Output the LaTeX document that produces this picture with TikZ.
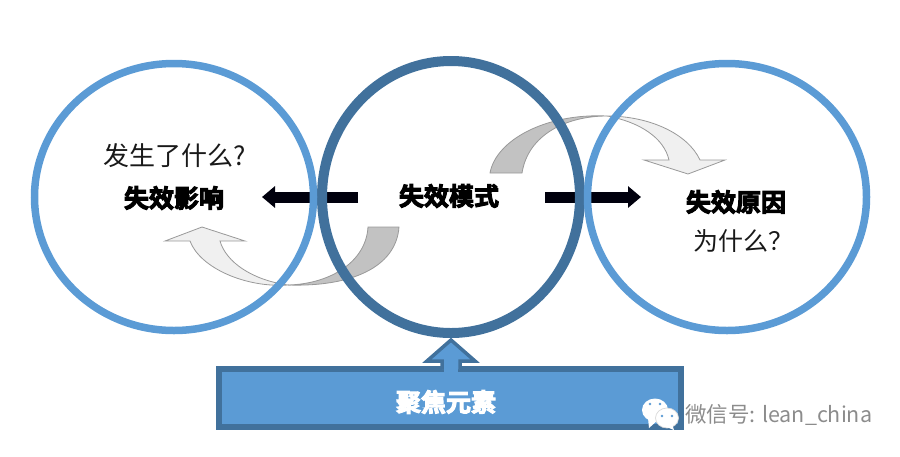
\documentclass[tikz,border=0pt]{standalone}
\usepackage{fontspec}
\usetikzlibrary{arrows.meta,shapes.geometric}
\newfontfamily\plaincjk{Noto Sans CJK SC}
\newfontfamily\heavycjk[FakeBold=4]{Noto Sans CJK SC Bold}
\definecolor{ringblue}{HTML}{5B9BD5}
\definecolor{ringdark}{HTML}{41719C}
\tikzset{
  ring/.style={ellipse,draw=ringblue,line width=7.5pt,minimum width=279pt,minimum height=267pt,inner sep=0pt},
  midring/.style={ellipse,draw=ringdark,line width=10pt,minimum width=258pt,minimum height=272pt,inner sep=0pt},
  heavy/.style={font=\heavycjk\fontsize{25}{25}\selectfont,inner sep=0pt},
  light/.style={font=\plaincjk\fontsize{26}{26}\selectfont,inner sep=0pt,text=black!90},
  thickarrow/.style={draw=black!95!blue,line width=11pt,-{Triangle[width=21pt,length=13pt]}},
  curlpale/.style={fill=black!6,draw=black!40,line width=0.8pt,line join=miter},
  curldark/.style={fill=black!24,draw=black!40,line width=0.8pt},
}
\begin{document}
\begin{tikzpicture}[x=1pt,y=-1pt]
  \useasboundingbox (0,0) rectangle (900,456);
  % curled arrows
  \draw[curldark] (368,227) .. controls (366,262) and (330,284) .. (288,285)
    .. controls (350,287) and (396,268) .. (399,227) -- cycle;
  \draw[curlpale] (288,285) .. controls (252,280) and (226,262) .. (220,241) -- (245,241) -- (202,227)
    -- (165,241) -- (190,241) .. controls (200,268) and (246,288) .. (288,285) -- cycle;
  \draw[curldark] (490,173) .. controls (496,140) and (546,113) .. (607,116)
    .. controls (566,116) and (528,135) .. (522,173) -- cycle;
  \draw[curlpale] (607,116) .. controls (640,122) and (664,138) .. (669,160) -- (644,160) -- (688,174)
    -- (725,160) -- (700,160) .. controls (688,134) and (650,116) .. (607,116) -- cycle;
  % black arrows
  \coordinate (leftstart) at (358,197);
  \coordinate (leftend) at (262,197);
  \coordinate (rightstart) at (545,197);
  \coordinate (rightend) at (641,197);
  \draw[thickarrow] (leftstart) -- (leftend);
  \draw[thickarrow] (rightstart) -- (rightend);
  % rings
  \node[midring] (modering) at (451,197) {};
  \node[ring] (effectring) at (174,197) {};
  \node[ring] (causering) at (727,197) {};
  % texts
  \node[light] (whatnode) at (175,156) {发生了什么?};
  \node[heavy] (effectnode) at (174,198) {失效影响};
  \node[heavy] (modenode) at (449,196) {失效模式};
  \node[heavy] (causenode) at (736,202) {失效原因};
  \node[light,font=\plaincjk\fontsize{25}{25}\selectfont] (whynode) at (743,241) {为什么？};
  % focus box
  \node[draw=ringdark,fill=ringblue,line width=6pt,minimum width=462pt,minimum height=58pt,inner sep=0pt] (focusbox) at (450,398) {};
  \node[heavy,text=white] (focusnode) at (446,402) {聚焦元素};
  \draw[draw=ringdark,fill=ringblue,line width=3.5pt,line join=miter]
    (442,369) -- (442,361) -- (427,361) -- (451,340) -- (475,361) -- (460,361) -- (460,369);
  \fill[ringblue] (443.8,362) rectangle (458.2,372);
  % watermark
  \fill[white] (655,410) ellipse (13pt and 11.5pt);
  \fill[white] (649,428) -- (648,418) -- (658,420) -- cycle;
  \draw[fill=white,draw=black!15,line width=0.7pt] (667,418) ellipse (11.5pt and 10pt);
  \fill[white] (674,430) -- (672,424) -- (664,426) -- cycle;
  \foreach \px/\py in {650/404,660/404,662/416,672/416}
    \fill[ringblue] (\px,\py) circle (1.4pt);
  \node[font=\plaincjk\fontsize{21.5}{21.5}\selectfont,text=black!45,inner sep=0pt,anchor=west] (marknode) at (685,415) {微信号: lean\_china};
\end{tikzpicture}
\end{document}
